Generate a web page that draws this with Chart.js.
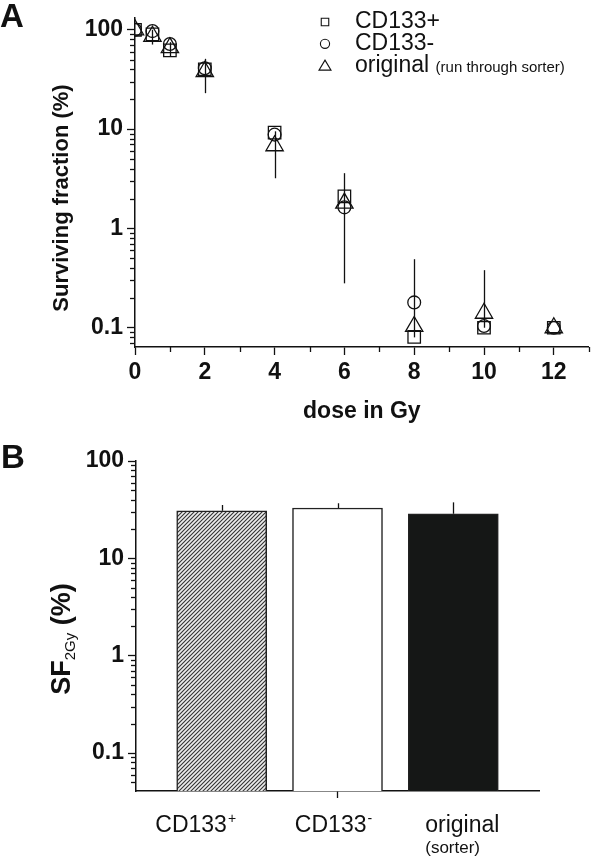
<!DOCTYPE html>
<html>
<head>
<meta charset="utf-8">
<title>Surviving fraction / SF2Gy</title>
<script src="https://cdn.jsdelivr.net/npm/chart.js@4.4.0/dist/chart.umd.min.js"></script>
<style>
    html, body { margin: 0; padding: 0; background: #fff; }
    #wrap { position: relative; width: 600px; height: 858px; }
    .panel { position: absolute; left: 0; width: 600px; }
    #panelA { top: 0; height: 430px; }
    #panelB { top: 430px; height: 428px; }
</style>
</head>
<body>
<div id="wrap">
    <div class="panel" id="panelA"><canvas id="chartA"></canvas></div>
    <div class="panel" id="panelB"><canvas id="chartB"></canvas></div>
</div>
<script>
// Panel A: survival curves (dose in Gy vs surviving fraction in %)
const doses = [0, 0.5, 1, 2, 4, 6, 8, 10, 12];
const cd133Pos = [100, 90, 62, 40, 9.2, 2.1, 0.081, 0.1, 0.1];
const cd133Neg = [100, 97, 72, 41, 8.8, 1.63, 0.18, 0.104, 0.1];
const original = [100, 86, 66, 38, 6.8, 1.8, 0.103, 0.14, 0.1];
const errLow = [null, 71, 54, 23, 3.2, 0.28, 0.08, 0.1, null];
const errHigh = [null, 100, 75, 51, 9.5, 3.6, 0.49, 0.38, null];
const doseTicks = [0, 2, 4, 6, 8, 10, 12];
const doseMinorTicks = [1, 3, 5, 7, 9, 11, 13];
const logTicks = [0.1, 1, 10, 100];
const legendNotes = ['', '', '(run through sorter)'];

// Panel B: SF2Gy per group
const groups = ['CD133', 'CD133', 'original'];
const groupSup = ['+', '-', ''];
const groupNote = ['', '', '(sorter)'];
const sf2 = [30.8, 32.9, 28.7];
const sf2ErrHigh = [35.3, 36.8, 37.6];

const INK = '#111';
const FONT = "'Liberation Sans', Arial, Helvetica, sans-serif";

// minor ticks 2..9 of every decade inside [min, max]
function minorLogValues(min, max) {
    const out = [];
    for (let e = -3; e <= 3; e++) {
        for (let m = 2; m <= 9; m++) {
            const v = m * Math.pow(10, e);
            if (v >= min && v <= max) out.push(v);
        }
    }
    return out;
}

// Diagonal hatch fill for the CD133+ bar
function makeHatch() {
    const c = document.createElement('canvas');
    c.width = 4;
    c.height = 4;
    const g = c.getContext('2d');
    g.fillStyle = '#ececec';
    g.fillRect(0, 0, 4, 4);
    g.strokeStyle = '#333';
    g.lineWidth = 1.1;
    g.beginPath();
    g.moveTo(0, 4); g.lineTo(4, 0);
    g.moveTo(-1, 1); g.lineTo(1, -1);
    g.moveTo(3, 5); g.lineTo(5, 3);
    g.stroke();
    return g.createPattern(c, 'repeat');
}

// Short minor tick marks, placed through the chart scales
const minorTicks = {
    id: 'minorTicks',
    afterDraw(chart, args, opts) {
        const { ctx, scales } = chart;
        ctx.save();
        ctx.strokeStyle = INK;
        ctx.lineWidth = 1.3;
        const y = scales.y;
        (opts.yValues || []).forEach(v => {
            const py = Math.round(y.getPixelForValue(v)) + 0.5;
            ctx.beginPath();
            ctx.moveTo(y.right, py);
            ctx.lineTo(y.right - opts.len, py);
            ctx.stroke();
        });
        const x = scales.x;
        (opts.xValues || []).forEach(v => {
            const px = Math.round(x.getPixelForValue(v)) + 0.5;
            ctx.beginPath();
            ctx.moveTo(px, x.top);
            ctx.lineTo(px, x.top + opts.len);
            ctx.stroke();
        });
        ctx.restore();
    }
};

// Vertical error bars (no caps)
const errorBars = {
    id: 'errorBars',
    afterDatasetsDraw(chart, args, opts) {
        const { ctx, scales: { x, y } } = chart;
        ctx.save();
        ctx.strokeStyle = INK;
        ctx.lineWidth = 1.3;
        opts.at.forEach((xv, i) => {
            const lo = opts.low[i];
            const hi = opts.high[i];
            if (lo == null || hi == null) return;
            const px = Math.round(x.getPixelForValue(xv)) + 0.5;
            ctx.beginPath();
            ctx.moveTo(px, y.getPixelForValue(lo));
            ctx.lineTo(px, y.getPixelForValue(hi));
            ctx.stroke();
        });
        ctx.restore();
    }
};

// Panel letter and rotated y title (with optional subscript)
const panelText = {
    id: 'panelText',
    afterDraw(chart, args, opts) {
        const ctx = chart.ctx;
        ctx.save();
        ctx.fillStyle = INK;
        ctx.textBaseline = 'alphabetic';
        ctx.textAlign = 'left';
        ctx.font = `bold 33px ${FONT}`;
        ctx.fillText(opts.letter, opts.letterX, opts.letterY);

        // rotated y title
        const parts = opts.title;
        let total = 0;
        parts.forEach(p => {
            ctx.font = p.font;
            p.w = ctx.measureText(p.text).width;
            total += p.w;
        });
        ctx.translate(opts.titleX, opts.titleY);
        ctx.rotate(-Math.PI / 2);
        let pos = -total / 2;
        parts.forEach(p => {
            ctx.font = p.font;
            ctx.fillText(p.text, pos, p.dy || 0);
            pos += p.w;
        });
        ctx.restore();
    }
};

// Legend in the upper right of panel A
const markerLegend = {
    id: 'markerLegend',
    afterDraw(chart, args, opts) {
        const ctx = chart.ctx;
        ctx.save();
        ctx.strokeStyle = INK;
        ctx.fillStyle = INK;
        ctx.lineWidth = 1.1;
        ctx.textBaseline = 'middle';
        ctx.textAlign = 'left';
        chart.data.datasets.forEach((ds, i) => {
            const cy = opts.y0 + i * opts.gap;
            const cx = opts.x;
            ctx.beginPath();
            if (ds.pointStyle === 'rect') {
                ctx.rect(cx - 3.75, cy - 3.75, 7.5, 7.5);
            } else if (ds.pointStyle === 'circle') {
                ctx.arc(cx, cy, 4.6, 0, Math.PI * 2);
            } else {
                ctx.moveTo(cx, cy - 5.5);
                ctx.lineTo(cx + 6, cy + 4.5);
                ctx.lineTo(cx - 6, cy + 4.5);
                ctx.closePath();
            }
            ctx.stroke();
            ctx.font = `23px ${FONT}`;
            ctx.fillText(ds.label, opts.textX, cy);
            if (legendNotes[i]) {
                const w = ctx.measureText(ds.label + ' ').width;
                ctx.font = `15px ${FONT}`;
                ctx.fillText(legendNotes[i], opts.textX + w, cy + 2);
            }
        });
        ctx.restore();
    }
};

// Category labels with superscripts / small note line for panel B
const groupLabels = {
    id: 'groupLabels',
    afterDraw(chart, args, opts) {
        const { ctx, scales: { x } } = chart;
        ctx.save();
        ctx.fillStyle = INK;
        ctx.textBaseline = 'alphabetic';
        ctx.textAlign = 'left';
        groups.forEach((name, i) => {
            const cx = x.getPixelForValue(i) + opts.shift[i];
            ctx.font = `23px ${FONT}`;
            const w = ctx.measureText(name).width;
            ctx.font = `14px ${FONT}`;
            const ws = groupSup[i] ? ctx.measureText(groupSup[i]).width + 1 : 0;
            const left = cx - (w + ws) / 2;
            ctx.font = `23px ${FONT}`;
            ctx.fillText(name, left, opts.baseline);
            if (groupSup[i]) {
                ctx.font = `14px ${FONT}`;
                ctx.fillText(groupSup[i], left + w + 1, opts.baseline - 9);
            }
            if (groupNote[i]) {
                ctx.font = `17px ${FONT}`;
                ctx.fillText(groupNote[i], left, opts.baseline + 21);
            }
        });
        ctx.restore();
    }
};

const tickFont = { family: FONT, size: 23, weight: 'bold' };
const axisGrid = {
    display: true,
    drawOnChartArea: false,
    drawTicks: true,
    tickLength: 8,
    tickColor: INK,
    tickWidth: 1.3
};
const axisBorder = { display: true, color: INK, width: 1.5 };

function buildChartA() {
    const yMin = 0.064;
    const yMax = 132;
    const pts = vals => doses.map((d, i) => ({ x: d, y: vals[i] }));
    const common = {
        showLine: false,
        pointBackgroundColor: 'rgba(0,0,0,0)',
        pointBorderColor: INK,
        pointBorderWidth: 1.3
    };

    new Chart(document.getElementById('chartA'), {
        type: 'scatter',
        data: {
            datasets: [
                { label: 'CD133+', data: pts(cd133Pos), pointStyle: 'rect', pointRadius: 8.8, ...common },
                { label: 'CD133-', data: pts(cd133Neg), pointStyle: 'circle', pointRadius: 6.4, ...common },
                { label: 'original', data: pts(original), pointStyle: 'triangle', pointRadius: 10, ...common }
            ]
        },
        options: {
            responsive: true,
            maintainAspectRatio: false,
            animation: false,
            events: [],
            layout: { padding: { left: 0, right: 1, top: 5, bottom: 5 } },
            plugins: {
                legend: { display: false },
                tooltip: { enabled: false },
                minorTicks: { yValues: minorLogValues(yMin, yMax), xValues: doseMinorTicks, len: 5 },
                errorBars: { at: doses, low: errLow, high: errHigh },
                panelText: {
                    letter: 'A', letterX: 0, letterY: 27,
                    titleX: 68, titleY: 198,
                    title: [{ text: 'Surviving fraction (%)', font: `bold 22px ${FONT}` }]
                },
                markerLegend: { x: 325, textX: 355, y0: 22, gap: 21.8 }
            },
            scales: {
                x: {
                    type: 'linear',
                    min: 0,
                    max: 13,
                    afterBuildTicks: s => { s.ticks = doseTicks.map(v => ({ value: v })); },
                    afterFit: s => { s.height = 78; },
                    ticks: { font: tickFont, color: INK, padding: 4, autoSkip: false, maxRotation: 0, callback: v => String(v) },
                    grid: axisGrid,
                    border: axisBorder,
                    title: {
                        display: true,
                        text: 'dose in Gy',
                        color: INK,
                        font: { family: FONT, size: 23, weight: 'bold' },
                        padding: { top: 0, bottom: 0 }
                    }
                },
                y: {
                    type: 'logarithmic',
                    min: yMin,
                    max: yMax,
                    afterBuildTicks: s => { s.ticks = logTicks.map(v => ({ value: v })); },
                    afterFit: s => { s.width = 135; },
                    ticks: { font: tickFont, color: INK, padding: 4, autoSkip: false, callback: v => String(v) },
                    grid: { ...axisGrid, tickLength: 8 },
                    border: axisBorder
                }
            }
        },
        plugins: [minorTicks, errorBars, panelText, markerLegend]
    });
}

function buildChartB() {
    const yMin = 0.0407;
    const yMax = 100;

    new Chart(document.getElementById('chartB'), {
        type: 'bar',
        data: {
            datasets: [{
                label: 'SF2Gy',
                data: sf2.map((v, i) => ({ x: i, y: v })),
                backgroundColor: [makeHatch(), '#ffffff', '#151716'],
                borderColor: '#222',
                borderWidth: 1.5,
                barThickness: 90
            }]
        },
        options: {
            responsive: true,
            maintainAspectRatio: false,
            animation: false,
            events: [],
            layout: { padding: { left: 0, right: 61, top: 31, bottom: 0 } },
            plugins: {
                legend: { display: false },
                tooltip: { enabled: false },
                minorTicks: { yValues: minorLogValues(yMin, yMax), len: 5 },
                errorBars: { at: [0, 1, 2], low: sf2, high: sf2ErrHigh },
                panelText: {
                    letter: 'B', letterX: 1, letterY: 38,
                    titleX: 70, titleY: 209,
                    title: [
                        { text: 'SF', font: `bold 27px ${FONT}` },
                        { text: '2Gy', font: `15px ${FONT}`, dy: 5 },
                        { text: ' (%)', font: `bold 27px ${FONT}` }
                    ]
                },
                groupLabels: { baseline: 402, shift: [-26, -4, 9] }
            },
            scales: {
                x: {
                    type: 'linear',
                    min: -0.74,
                    max: 2.74,
                    offset: false,
                    afterBuildTicks: s => { s.ticks = [0, 1, 2].map(v => ({ value: v })); },
                    afterFit: s => { s.height = 67; },
                    ticks: { display: false },
                    grid: { ...axisGrid, offset: false, tickLength: 7, tickColor: c => (c.index === 1 ? INK : 'rgba(0,0,0,0)') },
                    border: axisBorder
                },
                y: {
                    type: 'logarithmic',
                    min: yMin,
                    max: yMax,
                    afterBuildTicks: s => { s.ticks = logTicks.map(v => ({ value: v })); },
                    afterFit: s => { s.width = 136; },
                    ticks: { font: tickFont, color: INK, padding: 4, autoSkip: false, callback: v => String(v) },
                    grid: { ...axisGrid, tickLength: 8 },
                    border: axisBorder
                }
            }
        },
        plugins: [minorTicks, errorBars, panelText, groupLabels]
    });
}

buildChartA();
buildChartB();
</script>
</body>
</html>
